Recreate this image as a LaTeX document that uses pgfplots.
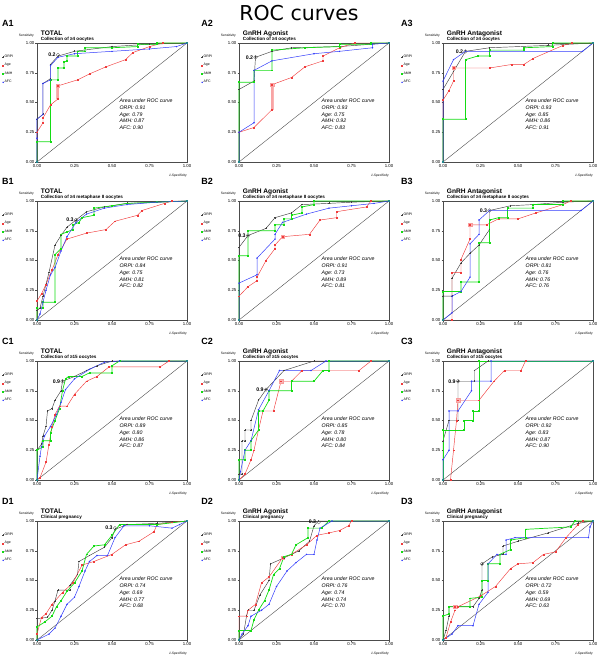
\documentclass[border=0pt]{standalone}
\usepackage{fontspec}
\setmainfont{Liberation Sans}
\newfontfamily\titlefont{DejaVu Sans}
\usepackage{pgfplots}
\pgfplotsset{compat=1.18}

\definecolor{cRed}{RGB}{240,60,60}
\definecolor{cGreen}{RGB}{20,220,20}
\definecolor{cBlue}{RGB}{50,60,250}
\definecolor{cPink}{RGB}{250,180,180}

\pgfplotsset{
  roc/.style={
    width=150pt, height=119pt, scale only axis, anchor=south west,
    xmin=0, xmax=1, ymin=0, ymax=1, clip=false,
    xtick={0,0.25,0.5,0.75,1}, ytick={0,0.25,0.5,0.75,1},
    xticklabels={0.00,0.25,0.50,0.75,1.00},
    yticklabels={0.00,0.25,0.50,0.75,1.00},
    tick label style={font=\fontsize{4.3}{5}\selectfont, inner sep=1pt},
    tick align=outside, major tick length=1.5pt,
    xtick pos=left, ytick pos=left,
    tick style={black!70, line width=0.3pt},
    axis line style={black!70, line width=0.4pt},
    legend style={at={(\lx,0.905)}, anchor=north west, draw=none, fill=none,
      inner sep=0pt, font=\fontsize{3.5}{4}\selectfont, row sep=3.3pt,
      nodes={inner sep=0.6pt}},
    legend cell align=left,
    legend image code/.code={\draw[#1] plot coordinates {(1pt,0pt)};},
  },
  orpi/.style={black!75, line width=0.45pt, mark=+, mark size=0.9pt},
  age/.style={cRed, line width=0.45pt, mark=square*, mark size=0.45pt},
  amh/.style={cGreen, line width=0.7pt, mark=square*, mark size=0.45pt},
  afc/.style={cBlue, line width=0.5pt, mark=*, mark size=0.45pt},
  diag/.style={black!70, line width=0.4pt, forget plot},
}

% panel label, header, subtitle, AUC values
\newcommand{\decor}[7]{%
  \node[anchor=north west, inner sep=0pt, font=\bfseries\fontsize{9}{9}\selectfont] at (rel axis cs:\lx,1.19) {#1};
  \node[anchor=base west, inner sep=0pt, font=\bfseries\fontsize{6.6}{7}\selectfont] at (rel axis cs:0.025,1.065) {#2};
  \node[anchor=base west, inner sep=0pt, font=\bfseries\fontsize{4.6}{5}\selectfont] at (rel axis cs:0.025,1.017) {#3};
  \node[anchor=east, inner sep=0pt, font=\fontsize{3.3}{4}\selectfont] at (rel axis cs:-0.02,1.06) {Sensitivity};
  \node[anchor=north east, inner sep=0pt, font=\itshape\fontsize{3.3}{4}\selectfont] at (rel axis cs:1,-0.1) {1-Specificity};
  \node[anchor=north west, align=left, inner sep=0pt, font=\itshape\fontsize{5.2}{6.7}\selectfont] at (axis cs:0.55,0.53)
    {Area under ROC curve\\ORPI: #4\\Age: #5\\AMH: #6\\AFC: #7};
}
% optimal cut-off circle
\newcommand{\opt}[3]{%
  \addplot[forget plot, only marks, mark=o, mark size=1.8pt, black!60, line width=0.35pt] coordinates {(#1,#2)};
  \node[anchor=east, inner sep=0pt, font=\bfseries\fontsize{5.2}{5}\selectfont, xshift=-2.2pt] at (axis cs:#1,#2) {#3};
}
% pink highlight on the age curve
\newcommand{\cut}[2]{%
  \addplot[forget plot, only marks, mark=square*, mark size=1.7pt, cPink, mark options={draw=cRed!50}] coordinates {(#1,#2)};
}
\newcommand{\cutbar}[3]{%
  \addplot[forget plot, cPink, line width=3pt] coordinates {(#1,#2)(#1,#3)};
}

\begin{document}
\begin{tikzpicture}
\path[use as bounding box] (0,0) rectangle (600pt,-660pt);
\node[font=\titlefont\fontsize{20.5}{22}\selectfont, anchor=base] at (299pt,-21pt) {ROC curves};

%%%%%%%%%%%%%%%%%%%% column 1 : TOTAL
\def\lx{-0.233}
\begin{axis}[roc, at={(37pt,-162pt)}]
  \addplot[diag] coordinates {(0,0) (1,1)};
  \cutbar{0.14}{0.53}{0.64}
  \cut{0.14}{0.64}
  \addplot[orpi] coordinates {(0,0)(0,0.36)(0.04,0.40)(0.04,0.66)(0.09,0.70)(0.09,0.82)(0.14,0.89)(0.25,0.93)(0.5,0.97)(0.75,0.99)(1,1)};
  \addplot[age] coordinates {(0,0)(0,0.25)(0.04,0.33)(0.04,0.37)(0.09,0.48)(0.14,0.53)(0.14,0.64)(0.27,0.69)(0.35,0.74)(0.46,0.80)(0.59,0.86)(0.64,0.92)(0.75,0.97)(0.84,1)(1,1)};
  \addplot[amh] coordinates {(0,0)(0,0.17)(0.09,0.17)(0.09,0.69)(0.14,0.69)(0.14,0.79)(0.18,0.79)(0.18,0.84)(0.2,0.85)(0.2,0.89)(0.27,0.89)(0.27,0.93)(0.32,0.93)(0.32,0.96)(0.5,0.96)(0.67,0.97)(0.67,0.99)(0.8,0.99)(0.8,1)(1,1)};
  \addplot[afc] coordinates {(0,0)(0,0.2)(0,0.36)(0.04,0.40)(0.04,0.66)(0.09,0.69)(0.09,0.81)(0.14,0.88)(0.25,0.91)(0.5,0.93)(0.75,0.95)(0.93,0.97)(1,1)};
  \opt{0.14}{0.90}{0.2}
  \legend{ORPI,Age,AMH,AFC}
  \decor{A1}{TOTAL}{Collection of ≥4 oocytes}{0.91}{0.79}{0.87}{0.90}
\end{axis}

\begin{axis}[roc, at={(37pt,-320pt)}]
  \addplot[diag] coordinates {(0,0) (1,1)};
  \addplot[orpi] coordinates {(0,0)(0,0.08)(0.02,0.10)(0.04,0.20)(0.06,0.30)(0.08,0.40)(0.12,0.63)(0.16,0.71)(0.2,0.78)(0.26,0.84)(0.33,0.91)(0.45,0.95)(0.6,0.98)(0.8,0.99)(1,1)};
  \addplot[age] coordinates {(0,0)(0,0.16)(0.03,0.22)(0.06,0.30)(0.1,0.42)(0.14,0.55)(0.2,0.68)(0.33,0.73)(0.46,0.76)(0.52,0.83)(0.67,0.88)(0.7,0.92)(0.85,0.98)(0.9,1)(1,1)};
  \addplot[amh] coordinates {(0,0)(0,0.1)(0.04,0.1)(0.04,0.15)(0.12,0.15)(0.12,0.55)(0.16,0.60)(0.16,0.72)(0.2,0.74)(0.24,0.76)(0.24,0.80)(0.28,0.82)(0.3,0.86)(0.38,0.88)(0.38,0.94)(0.5,0.96)(0.6,0.98)(0.8,0.99)(1,1)};
  \addplot[afc] coordinates {(0,0)(0.02,0.05)(0.04,0.15)(0.06,0.25)(0.09,0.38)(0.12,0.44)(0.16,0.58)(0.2,0.70)(0.26,0.82)(0.33,0.89)(0.45,0.94)(0.6,0.97)(0.8,0.99)(1,1)};
  \opt{0.26}{0.84}{0.3}
  \legend{ORPI,Age,AMH,AFC}
  \decor{B1}{TOTAL}{Collection of ≥4 metaphase II oocytes}{0.84}{0.75}{0.81}{0.82}
\end{axis}

\begin{axis}[roc, at={(37pt,-480pt)}]
  \addplot[diag] coordinates {(0,0) (1,1)};
  \addplot[orpi] coordinates {(0,0)(0,0.25)(0.03,0.30)(0.04,0.37)(0.06,0.45)(0.07,0.58)(0.1,0.60)(0.12,0.67)(0.16,0.75)(0.17,0.83)(0.25,0.87)(0.33,0.92)(0.4,0.96)(0.5,1)(1,1)};
  \addplot[age] coordinates {(0,0)(0.02,0.02)(0.06,0.15)(0.08,0.30)(0.1,0.45)(0.12,0.55)(0.15,0.62)(0.2,0.62)(0.25,0.72)(0.33,0.83)(0.4,0.87)(0.48,0.95)(0.82,0.95)(0.88,1)(1,1)};
  \addplot[amh] coordinates {(0,0)(0,0.25)(0.04,0.28)(0.04,0.33)(0.09,0.33)(0.09,0.40)(0.12,0.50)(0.15,0.60)(0.17,0.75)(0.19,0.85)(0.21,0.87)(0.3,0.87)(0.35,0.90)(0.5,0.90)(0.5,0.96)(0.55,1)(1,1)};
  \addplot[afc] coordinates {(0,0)(0.02,0.2)(0.03,0.28)(0.05,0.37)(0.09,0.45)(0.13,0.55)(0.16,0.65)(0.19,0.76)(0.25,0.85)(0.35,0.93)(0.45,0.99)(0.55,1)(1,1)};
  \opt{0.17}{0.83}{0.9}
  \legend{ORPI,Age,AMH,AFC}
  \decor{C1}{TOTAL}{Collection of ≥15 oocytes}{0.89}{0.80}{0.86}{0.87}
\end{axis}

\begin{axis}[roc, at={(37pt,-640pt)}]
  \addplot[diag] coordinates {(0,0) (1,1)};
  \addplot[orpi] coordinates {(0,0)(0,0.18)(0.07,0.19)(0.1,0.25)(0.12,0.33)(0.14,0.42)(0.22,0.42)(0.22,0.46)(0.27,0.55)(0.28,0.66)(0.35,0.71)(0.45,0.78)(0.5,0.86)(0.52,0.93)(0.6,0.97)(0.8,0.98)(0.9,0.99)(1,1)};
  \addplot[age] coordinates {(0,0)(0,0.05)(0.03,0.19)(0.06,0.22)(0.1,0.30)(0.17,0.40)(0.24,0.48)(0.3,0.63)(0.38,0.66)(0.5,0.72)(0.59,0.80)(0.68,0.83)(0.78,0.91)(0.8,0.97)(0.9,0.99)(1,1)};
  \addplot[amh] coordinates {(0,0)(0,0.11)(0.05,0.15)(0.1,0.20)(0.13,0.28)(0.16,0.33)(0.2,0.41)(0.25,0.48)(0.3,0.58)(0.33,0.72)(0.38,0.79)(0.45,0.80)(0.5,0.88)(0.55,0.97)(0.8,0.97)(1,1)};
  \addplot[afc] coordinates {(0,0)(0.08,0.05)(0.12,0.10)(0.16,0.20)(0.2,0.30)(0.25,0.36)(0.28,0.45)(0.32,0.58)(0.35,0.66)(0.4,0.71)(0.47,0.71)(0.52,0.86)(0.58,0.96)(0.75,0.96)(0.9,0.94)(0.95,0.97)(1,1)};
  \opt{0.52}{0.94}{0.3}
  \legend{ORPI,Age,AMH,AFC}
  \decor{D1}{TOTAL}{Clinical pregnancy}{0.74}{0.69}{0.77}{0.68}
\end{axis}

%%%%%%%%%%%%%%%%%%%% column 2 : GnRH Agonist
\def\lx{-0.253}
\begin{axis}[roc, at={(239pt,-162pt)}]
  \addplot[diag] coordinates {(0,0) (1,1)};
  \cutbar{0.22}{0.44}{0.65}
  \cut{0.22}{0.65}
  \addplot[orpi] coordinates {(0,0)(0,0.61)(0.1,0.68)(0.11,0.88)(0.22,0.93)(0.35,0.96)(0.67,0.97)(1,1)};
  \addplot[age] coordinates {(0,0)(0,0.25)(0.1,0.29)(0.22,0.44)(0.22,0.65)(0.35,0.71)(0.44,0.80)(0.56,0.85)(0.56,0.89)(0.67,0.96)(0.77,1)(1,1)};
  \addplot[amh] coordinates {(0,0)(0,0.67)(0.1,0.67)(0.1,0.77)(0.22,0.77)(0.22,0.94)(0.44,0.96)(0.67,0.97)(0.67,0.99)(0.88,0.99)(0.88,1)(1,1)};
  \addplot[afc] coordinates {(0,0)(0,0.25)(0.1,0.33)(0.1,0.77)(0.22,0.85)(0.5,0.91)(0.67,0.93)(0.89,0.96)(0.89,0.99)(1,1)};
  \opt{0.11}{0.88}{0.2}
  \legend{ORPI,Age,AMH,AFC}
  \decor{A2}{GnRH Agonist}{Collection of ≥4 oocytes}{0.93}{0.75}{0.92}{0.83}
\end{axis}

\begin{axis}[roc, at={(239pt,-320pt)}]
  \addplot[diag] coordinates {(0,0) (1,1)};
  \cut{0.29}{0.70}
  \addplot[orpi] coordinates {(0,0)(0,0.61)(0.06,0.71)(0.18,0.77)(0.24,0.86)(0.35,0.90)(0.42,0.97)(0.6,0.98)(0.75,0.99)(1,1)};
  \addplot[age] coordinates {(0,0)(0,0.20)(0.06,0.28)(0.12,0.33)(0.12,0.36)(0.18,0.50)(0.24,0.60)(0.24,0.63)(0.29,0.70)(0.47,0.72)(0.54,0.84)(0.65,0.86)(0.65,0.91)(0.85,0.95)(0.88,1)(1,1)};
  \addplot[amh] coordinates {(0,0)(0,0.54)(0.06,0.54)(0.06,0.75)(0.24,0.75)(0.24,0.80)(0.3,0.80)(0.3,0.85)(0.35,0.85)(0.35,0.88)(0.42,0.90)(0.42,0.95)(0.5,0.97)(0.5,1)(1,1)};
  \addplot[afc] coordinates {(0,0)(0,0.31)(0.12,0.38)(0.12,0.52)(0.24,0.68)(0.24,0.72)(0.29,0.82)(0.45,0.89)(0.6,0.94)(0.75,0.96)(0.9,0.98)(1,1)};
  \opt{0.06}{0.71}{0.3}
  \legend{ORPI,Age,AMH,AFC}
  \decor{B2}{GnRH Agonist}{Collection of ≥4 metaphase II oocytes}{0.91}{0.73}{0.89}{0.81}
\end{axis}

\begin{axis}[roc, at={(239pt,-480pt)}]
  \addplot[diag] coordinates {(0,0) (1,1)};
  \cut{0.28}{0.83}
  \addplot[orpi] coordinates {(0,0)(0,0.05)(0.02,0.05)(0.02,0.33)(0.04,0.33)(0.04,0.42)(0.08,0.42)(0.08,0.50)(0.13,0.67)(0.18,0.76)(0.3,0.92)(0.5,1)(1,1)};
  \addplot[age] coordinates {(0,0)(0.04,0.05)(0.08,0.17)(0.1,0.25)(0.13,0.42)(0.16,0.58)(0.23,0.58)(0.28,0.83)(0.35,0.83)(0.42,0.92)(0.8,0.92)(0.88,1)(1,1)};
  \addplot[amh] coordinates {(0,0)(0,0.17)(0.04,0.17)(0.04,0.25)(0.08,0.25)(0.08,0.33)(0.13,0.42)(0.13,0.58)(0.16,0.58)(0.2,0.67)(0.2,0.75)(0.35,0.75)(0.35,0.83)(0.5,0.83)(0.56,0.92)(0.6,0.92)(0.6,1)(1,1)};
  \addplot[afc] coordinates {(0,0)(0.01,0.07)(0.04,0.25)(0.08,0.33)(0.13,0.59)(0.2,0.75)(0.27,0.92)(0.48,0.92)(0.58,1)(1,1)};
  \opt{0.18}{0.76}{0.9}
  \legend{ORPI,Age,AMH,AFC}
  \decor{C2}{GnRH Agonist}{Collection of ≥15 oocytes}{0.85}{0.78}{0.80}{0.84}
\end{axis}

\begin{axis}[roc, at={(239pt,-640pt)}]
  \addplot[diag] coordinates {(0,0) (1,1)};
  \cut{0.29}{0.69}
  \addplot[orpi] coordinates {(0,0)(0.03,0.05)(0.05,0.2)(0.06,0.25)(0.1,0.25)(0.14,0.38)(0.2,0.5)(0.21,0.64)(0.3,0.69)(0.4,0.75)(0.47,0.83)(0.5,0.96)(0.53,1)(1,1)};
  \addplot[age] coordinates {(0,0)(0,0.2)(0.05,0.2)(0.06,0.25)(0.11,0.30)(0.15,0.48)(0.2,0.53)(0.29,0.69)(0.35,0.72)(0.45,0.80)(0.52,0.88)(0.6,0.90)(0.67,0.92)(0.73,0.96)(0.75,1)(1,1)};
  \addplot[amh] coordinates {(0,0)(0,0.08)(0.08,0.08)(0.1,0.17)(0.13,0.25)(0.17,0.33)(0.2,0.42)(0.23,0.55)(0.27,0.60)(0.3,0.70)(0.35,0.72)(0.38,0.80)(0.46,0.86)(0.46,0.94)(0.55,0.94)(0.6,1)(1,1)};
  \addplot[afc] coordinates {(0,0)(0.02,0.05)(0.06,0.12)(0.08,0.20)(0.15,0.25)(0.2,0.30)(0.25,0.45)(0.32,0.58)(0.38,0.65)(0.45,0.72)(0.5,0.72)(0.52,0.84)(0.54,0.94)(0.62,1)(1,1)};
  \opt{0.53}{0.99}{0.3}
  \legend{ORPI,Age,AMH,AFC}
  \decor{D2}{GnRH Agonist}{Clinical pregnancy}{0.76}{0.74}{0.74}{0.70}
\end{axis}

%%%%%%%%%%%%%%%%%%%% column 3 : GnRH Antagonist
\def\lx{-0.28}
\begin{axis}[roc, at={(443pt,-162pt)}]
  \addplot[diag] coordinates {(0,0) (1,1)};
  \cut{0.07}{0.79}
  \addplot[orpi] coordinates {(0,0)(0,0.61)(0.07,0.76)(0.15,0.93)(0.31,0.96)(0.7,0.98)(1,1)};
  \addplot[age] coordinates {(0,0)(0,0.52)(0.04,0.60)(0.07,0.68)(0.07,0.79)(0.31,0.79)(0.46,0.82)(0.54,0.82)(0.6,0.87)(0.8,0.98)(0.86,1)(1,1)};
  \addplot[amh] coordinates {(0,0)(0,0.36)(0.15,0.36)(0.15,0.86)(0.23,0.89)(0.31,0.89)(0.31,0.94)(0.54,0.94)(0.54,0.96)(0.73,0.97)(0.73,1)(1,1)};
  \addplot[afc] coordinates {(0,0)(0,0.68)(0.07,0.86)(0.15,0.93)(0.93,0.93)(1,1)};
  \opt{0.15}{0.93}{0.2}
  \legend{ORPI,Age,AMH,AFC}
  \decor{A3}{GnRH Antagonist}{Collection of ≥4 oocytes}{0.93}{0.85}{0.86}{0.91}
\end{axis}

\begin{axis}[roc, at={(443pt,-320pt)}]
  \addplot[diag] coordinates {(0,0) (1,1)};
  \cut{0.18}{0.80}
  \addplot[orpi] coordinates {(0,0)(0,0.2)(0.06,0.2)(0.06,0.35)(0.12,0.48)(0.18,0.56)(0.24,0.63)(0.31,0.76)(0.31,0.92)(0.45,0.96)(0.6,0.97)(0.8,0.99)(1,1)};
  \addplot[age] coordinates {(0,0)(0.06,0)(0.06,0.40)(0.12,0.40)(0.12,0.51)(0.18,0.68)(0.18,0.80)(0.29,0.80)(0.37,0.85)(0.5,0.85)(0.62,0.90)(0.8,0.97)(0.85,1)(1,1)};
  \addplot[amh] coordinates {(0,0)(0,0.24)(0.12,0.24)(0.12,0.32)(0.24,0.32)(0.24,0.65)(0.31,0.65)(0.31,0.84)(0.37,0.86)(0.43,0.86)(0.43,0.94)(0.6,0.94)(0.6,0.97)(0.8,0.97)(0.8,1)(1,1)};
  \addplot[afc] coordinates {(0,0)(0.06,0.06)(0.06,0.2)(0.12,0.24)(0.18,0.36)(0.18,0.64)(0.24,0.72)(0.24,0.84)(0.31,0.92)(0.92,0.92)(1,1)};
  \opt{0.31}{0.92}{0.3}
  \legend{ORPI,Age,AMH,AFC}
  \decor{B3}{GnRH Antagonist}{Collection of ≥4 metaphase II oocytes}{0.81}{0.76}{0.76}{0.76}
\end{axis}

\begin{axis}[roc, at={(443pt,-480pt)}]
  \addplot[diag] coordinates {(0,0) (1,1)};
  \cut{0.10}{0.67}
  \addplot[orpi] coordinates {(0,0)(0,0.33)(0.04,0.5)(0.1,0.5)(0.1,0.83)(0.21,0.83)(0.21,0.92)(0.3,1)(1,1)};
  \addplot[age] coordinates {(0,0)(0.05,0)(0.07,0.25)(0.09,0.5)(0.1,0.67)(0.24,0.67)(0.34,0.83)(0.41,0.92)(0.52,0.92)(0.55,1)(1,1)};
  \addplot[amh] coordinates {(0,0)(0,0.42)(0.14,0.42)(0.14,0.50)(0.2,0.50)(0.2,0.58)(0.24,0.58)(0.24,1)(1,1)};
  \addplot[afc] coordinates {(0,0)(0,0.17)(0.04,0.25)(0.04,0.58)(0.1,0.58)(0.19,0.75)(0.19,0.83)(0.32,0.83)(0.32,1)(1,1)};
  \opt{0.10}{0.83}{0.9}
  \legend{ORPI,Age,AMH,AFC}
  \decor{C3}{GnRH Antagonist}{Collection of ≥15 oocytes}{0.92}{0.83}{0.87}{0.90}
\end{axis}

\begin{axis}[roc, at={(443pt,-640pt)}]
  \addplot[diag] coordinates {(0,0) (1,1)};
  \cut{0.08}{0.28}
  \addplot[orpi] coordinates {(0,0)(0.02,0.08)(0.04,0.2)(0.04,0.28)(0.2,0.28)(0.24,0.35)(0.26,0.42)(0.26,0.64)(0.33,0.70)(0.4,0.72)(0.4,0.79)(0.5,0.83)(0.7,0.90)(0.9,0.98)(1,1)};
  \addplot[age] coordinates {(0,0)(0.02,0.02)(0.05,0.15)(0.08,0.25)(0.08,0.28)(0.1,0.28)(0.25,0.37)(0.35,0.45)(0.45,0.60)(0.5,0.64)(0.6,0.65)(0.67,0.72)(0.75,0.74)(0.82,0.86)(0.9,0.97)(0.93,1)(1,1)};
  \addplot[amh] coordinates {(0,0)(0,0.2)(0.04,0.22)(0.04,0.28)(0.18,0.28)(0.18,0.35)(0.26,0.36)(0.26,0.50)(0.3,0.50)(0.3,0.64)(0.38,0.64)(0.38,0.72)(0.45,0.76)(0.45,0.84)(0.55,0.86)(0.55,0.93)(0.85,0.95)(0.88,1)(1,1)};
  \addplot[afc] coordinates {(0,0)(0.06,0.05)(0.1,0.12)(0.2,0.12)(0.24,0.30)(0.3,0.40)(0.3,0.64)(0.36,0.72)(0.42,0.72)(0.42,0.84)(0.48,0.86)(0.97,0.86)(0.98,0.95)(1,1)};
  \addplot[forget plot, only marks, mark=o, mark size=1.8pt, black!60, line width=0.35pt] coordinates {(0.26,0.64)};
  \legend{ORPI,Age,AMH,AFC}
  \decor{D3}{GnRH Antagonist}{Clinical pregnancy}{0.72}{0.59}{0.69}{0.63}
\end{axis}
\end{tikzpicture}
\end{document}
